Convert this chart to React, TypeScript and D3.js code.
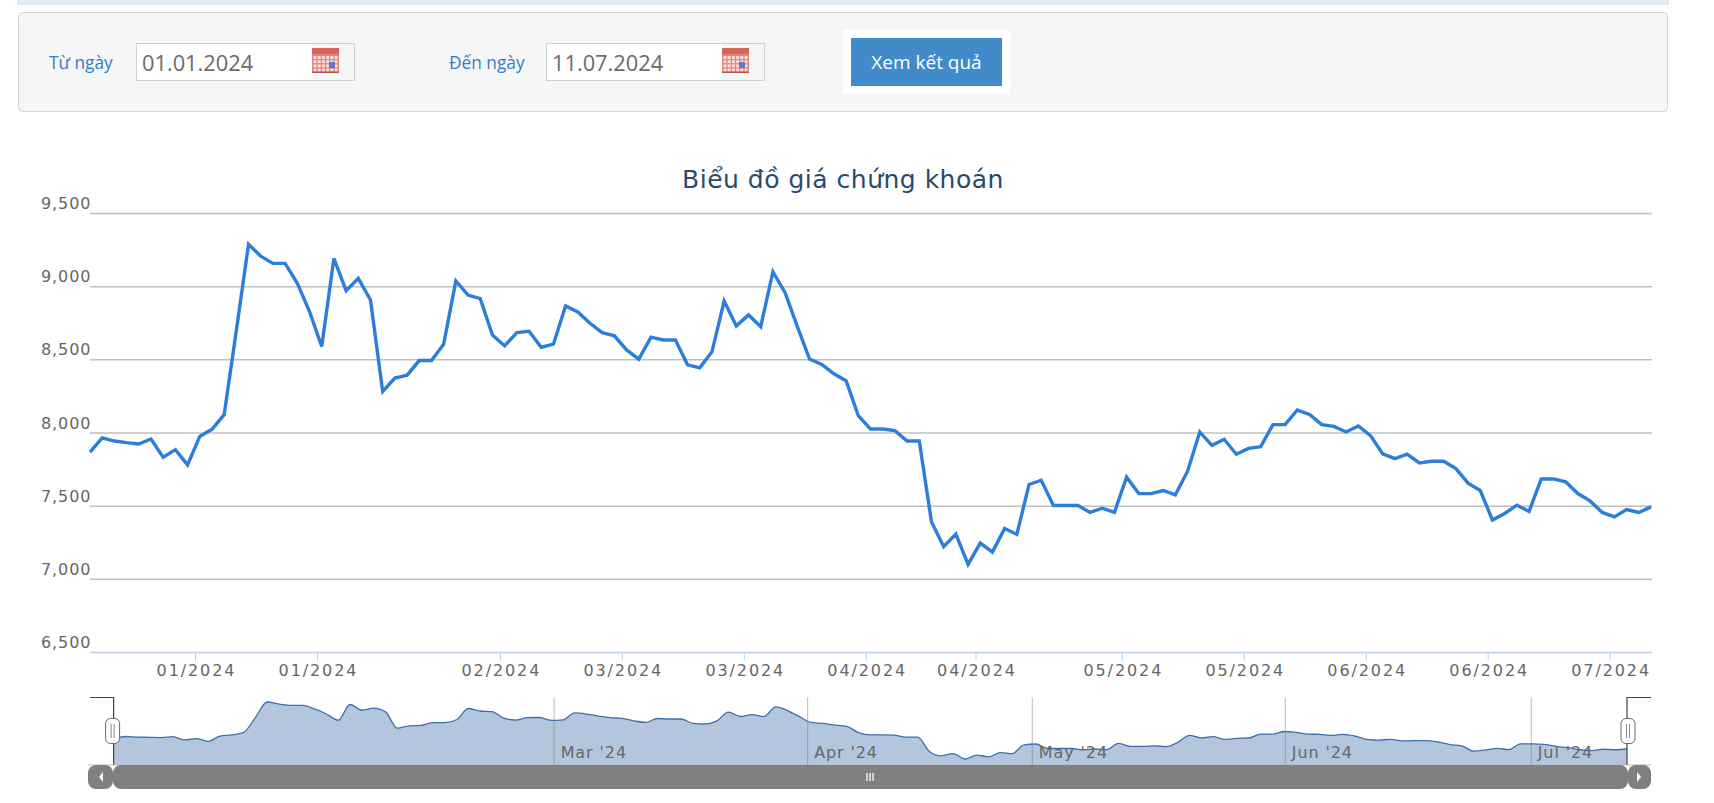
import React from "react";
import * as d3 from "d3";

const prices = [7870,7966,7945,7934,7925,7959,7834,7886,7782,7977,8025,8125,8700,9289,9209,9159,9159,9023,8830,8591,9193,8973,9057,8909,8284,8375,8395,8495,8495,8607,9039,8943,8918,8670,8595,8686,8695,8586,8607,8868,8827,8750,8686,8664,8568,8505,8655,8636,8636,8466,8445,8555,8902,8732,8807,8727,9102,8959,8727,8505,8468,8405,8357,8118,8027,8027,8016,7945,7945,7393,7223,7309,7102,7248,7186,7348,7307,7648,7677,7505,7505,7505,7457,7486,7457,7698,7586,7586,7607,7577,7739,8007,7916,7957,7855,7895,7907,8057,8057,8157,8127,8057,8045,8007,8048,7982,7857,7825,7855,7795,7807,7807,7757,7657,7607,7405,7450,7507,7464,7686,7686,7666,7586,7536,7457,7427,7477,7457,7495];
const yTicks = [6500,7000,7500,8000,8500,9000,9500];
const xTickIndex = [8.65,18.65,33.65,43.65,53.65,63.65,72.65,84.65,94.65,104.65,114.65,124.65];
const xTickLabels = ["01/2024","01/2024","02/2024","03/2024","03/2024","04/2024","04/2024","05/2024","05/2024","06/2024","06/2024","07/2024"];
const navTickIndex = [37.26,58.7,77.7,99.1,119.9];
const navTickLabels = ["Mar '24","Apr '24","May '24","Jun '24","Jul '24"];
const titleText = "Biểu đồ giá chứng khoán";
const fromLabel = "Từ ngày";
const toLabel = "Đến ngày";
const fromDate = "01.01.2024";
const toDate = "11.07.2024";
const buttonLabel = "Xem kết quả";

const FONT = "'DejaVu Sans', Verdana, sans-serif";
const FORM_FONT = "'Open Sans', sans-serif";

function Calendar({ x, y }: { x: number; y: number }) {
  const cols = d3.range(6);
  const rows = d3.range(4);
  return (
    <g transform={`translate(${x},${y})`}>
      <rect width={27} height={25} fill="#e8837a" />
      <rect width={27} height={6} fill="#d9645c" />
      {rows.map((r) =>
        cols.map((c) => (
          <rect key={`${r}-${c}`} x={1.5 + c * 4.2} y={8 + r * 4.2} width={3} height={3} fill="#fbdcd8" />
        ))
      )}
      <rect x={17} y={14} width={6} height={6} fill="#5a78d8" />
      <rect y={23.5} width={27} height={1.5} fill="#b5544c" />
    </g>
  );
}

function DateField({ x, text }: { x: number; text: string }) {
  return (
    <g>
      <rect x={x + 0.5} y={43.5} width={218} height={37} fill="#fff" stroke="#d2d2d2" />
      <rect x={x + 176} y={44} width={42} height={36} fill="#f6f6f6" />
      <text x={x + 6} y={71} fontFamily={FORM_FONT} fontSize={21.8} fill="#6e6a64">{text}</text>
      <Calendar x={x + 176} y={48} />
    </g>
  );
}

export default function App() {
  const x = d3.scaleLinear().domain([0, prices.length - 1]).range([90, 1651]);
  const y = d3.scaleLinear().domain([6500, 9500]).range([652.5, 213.5]);
  const nx = d3.scaleLinear().domain([0, prices.length - 1]).range([113.6, 1627]);
  const ny = d3.scaleLinear().domain([7102, 9289]).range([759, 702]);
  const navTop = 697.5, navBottom = 765, sbBottom = 789;

  const linePath = d3.line<number>().x((_, i) => x(i)).y((d) => y(d))(prices) || "";
  const navLine = d3.line<number>().x((_, i) => nx(i)).y((d) => ny(d)).curve(d3.curveMonotoneX)(prices) || "";
  const navArea = d3.area<number>().x((_, i) => nx(i)).y0(navBottom).y1((d) => ny(d)).curve(d3.curveMonotoneX)(prices) || "";
  const nLeft = nx(0), nRight = nx(prices.length - 1);

  const handle = (cx: number) => (
    <g>
      <rect x={cx - 7} y={718.5} width={14} height={25} rx={5} fill="#fff" stroke="#666" strokeWidth={1} />
      <line x1={cx - 1.5} x2={cx - 1.5} y1={724} y2={738} stroke="#888" />
      <line x1={cx + 1.5} x2={cx + 1.5} y1={724} y2={738} stroke="#888" />
    </g>
  );

  return (
    <svg width={1714} height={803} style={{ position: "absolute", left: 0, top: 0, background: "#fff" }}>
      {/* top strip */}
      <rect x={18} y={-3} width={1650} height={7} fill="#e4eef4" stroke="#c9dbe3" />
      {/* form */}
      <rect x={18.5} y={12.5} width={1649} height={99} rx={4} fill="#f6f6f6" stroke="#d5d5d5" />
      <text x={49} y={68.5} fontFamily={FORM_FONT} fontSize={17.3} fill="#2f7fc8">{fromLabel}</text>
      <DateField x={136} text={fromDate} />
      <text x={449} y={68.5} fontFamily={FORM_FONT} fontSize={17.3} fill="#2f7fc8">{toLabel}</text>
      <DateField x={546} text={toDate} />
      <rect x={843} y={30} width={167} height={64} fill="#fff" />
      <rect x={851} y={38} width={151} height={48} fill="#428bca" />
      <text x={926.5} y={69} textAnchor="middle" fontFamily={FORM_FONT} fontSize={19} fill="#fff">{buttonLabel}</text>

      {/* title */}
      <text x={843} y={188} textAnchor="middle" fontFamily={FONT} fontSize={25} letterSpacing={0.5} fill="#274b6d">{titleText}</text>

      {/* y grid + labels */}
      {yTicks.map((t) => (
        <g key={t}>
          {t !== 6500 && <line x1={90} x2={1652} y1={y(t)} y2={y(t)} stroke="#c0c0c0" strokeWidth={1.5} />}
          <text x={41} y={y(t) - 4.5} fontFamily={FONT} fontSize={16} letterSpacing={0.9} fill="#666">{d3.format(",")(t)}</text>
        </g>
      ))}
      {/* x axis */}
      <line x1={90} x2={1652} y1={y(6500)} y2={y(6500)} stroke="#c0d0e0" strokeWidth={1.5} />
      {xTickIndex.map((t, i) => (
        <g key={i}>
          <line x1={x(t)} x2={x(t)} y1={y(6500)} y2={660.5} stroke="#c0d0e0" />
          <text x={x(t) + 1} y={676} textAnchor="middle" fontFamily={FONT} fontSize={16} letterSpacing={1.9} fill="#666">{xTickLabels[i]}</text>
        </g>
      ))}
      <path d={linePath} fill="none" stroke="#2d7ddb" strokeWidth={3.4} strokeLinejoin="miter" />

      {/* navigator */}
      <path d={navArea} fill="#b3c6de" />
      <path d={navLine} fill="none" stroke="#3f6fac" strokeWidth={1.3} />
      {navTickIndex.map((t, i) => (
        <g key={i}>
          <line x1={nx(t)} x2={nx(t)} y1={navTop} y2={navBottom} stroke="#7a7a7a" strokeOpacity={0.5} />
          <text x={nx(t) + 6.5} y={758} fontFamily={FONT} fontSize={16} letterSpacing={0.9} fill="#666">{navTickLabels[i]}</text>
        </g>
      ))}
      <path d={`M90,${navTop}H${nLeft}V${navBottom}`} fill="none" stroke="#444" strokeWidth={1.2} />
      <path d={`M1651,${navTop}H${nRight}V${navBottom}`} fill="none" stroke="#444" strokeWidth={1.2} />
      {handle(nLeft - 1)}
      {handle(nRight + 1)}

      {/* scrollbar */}
      <rect x={88} y={navBottom - 0.5} width={1563} height={1} fill="#bbb" />
      <rect x={88} y={navBottom} width={25} height={sbBottom - navBottom} rx={8} fill="#808080" />
      <rect x={113} y={navBottom} width={1515} height={sbBottom - navBottom} rx={8} fill="#808080" />
      <rect x={1628} y={navBottom} width={23} height={sbBottom - navBottom} rx={8} fill="#808080" />
      <path d={`M103,772l-4,5l4,5z`} fill="#fff" />
      <path d={`M1637,772l4,5l-4,5z`} fill="#fff" />
      {[-3, 0, 3].map((d) => (
        <line key={d} x1={870 + d} x2={870 + d} y1={773} y2={781} stroke="#fff" strokeWidth={1.3} />
      ))}
    </svg>
  );
}
